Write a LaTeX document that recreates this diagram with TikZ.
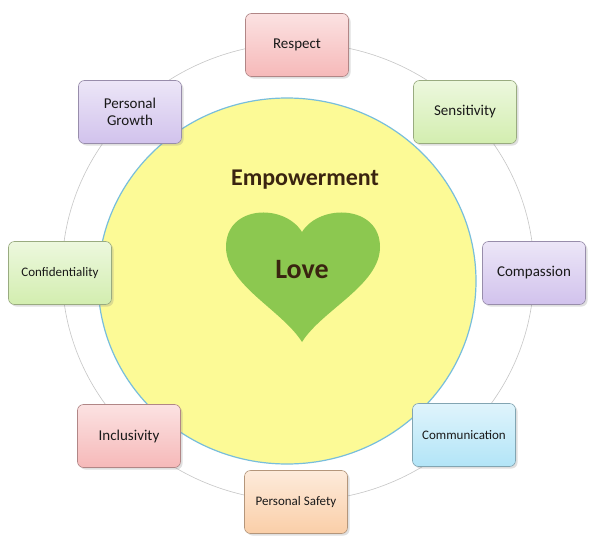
\documentclass[tikz,border=0pt]{standalone}
\usepackage{fontspec}
\setmainfont{Carlito}
\usetikzlibrary{shadows}
\begin{document}
\begin{tikzpicture}[x=1pt,y=-1pt,
  box/.style={draw=#1!60!black!70, line width=0.6pt, rounded corners=6pt, minimum width=103pt, minimum height=63pt,
    top color=#1!25, bottom color=#1!60, align=center, font=\fontsize{15}{17}\selectfont, text=black!90,
    drop shadow={opacity=0.25, shadow xshift=2pt, shadow yshift=-2pt}}]
\definecolor{cpink}{HTML}{F08A8A}
\definecolor{cgreen}{HTML}{B5E27A}
\definecolor{cviol}{HTML}{B39AE0}
\definecolor{cblue}{HTML}{7FD3F2}
\definecolor{corange}{HTML}{F7AE6E}
\definecolor{cyell}{HTML}{FCFA96}
\definecolor{cyellb}{HTML}{78BEDC}
\definecolor{cheart}{HTML}{8CC850}
\definecolor{cemp}{HTML}{3A2410}
\useasboundingbox (0,0) rectangle (600,549);
\fill[white] (0,0) rectangle (600,549);
\draw[gray!45, line width=0.6pt] (298,272) ellipse [x radius=236, y radius=229];
\filldraw[fill=cyell, draw=cyellb, line width=1.2pt] (287,281) ellipse [x radius=189, y radius=183];
\fill[cheart] (302,232) .. controls (320,203) and (380,205) .. (380,247) .. controls (380,285) and (322,310) .. (302,342) .. controls (282,310) and (226,285) .. (226,247) .. controls (226,205) and (284,203) .. (302,232);
\node (emp) at (305,180) {\fontsize{24}{28}\selectfont\bfseries\color{cemp}Empowerment};
\node (love) at (302,270) {\fontsize{28}{32}\selectfont\bfseries\color{cemp}Love};
\node[box=cpink] (respect) at (297,45) {Respect};
\node[box=cgreen] (sens) at (465,112) {Sensitivity};
\node[box=cviol] (comp) at (534,273) {Compassion};
\node[box=cblue] (commu) at (464,435) {\fontsize{13}{15}\selectfont Communication};
\node[box=corange] (safety) at (296,502) {\fontsize{13}{15}\selectfont Personal Safety};
\node[box=cpink] (incl) at (129,436) {Inclusivity};
\node[box=cgreen] (conf) at (60,273) {\fontsize{13}{15}\selectfont Confidentiality};
\node[box=cviol] (growth) at (130,112) {Personal\\Growth};
\end{tikzpicture}
\end{document}
